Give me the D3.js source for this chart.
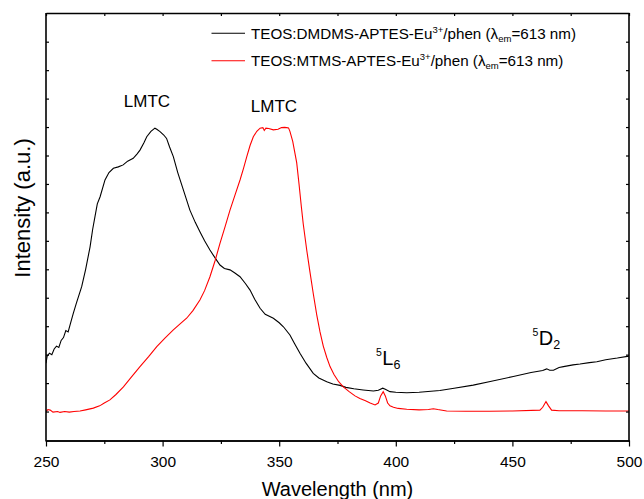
<!DOCTYPE html>
<html>
<head>
<meta charset="utf-8">
<script src="https://cdn.jsdelivr.net/npm/d3@7"></script>
<style>
  html, body { margin: 0; padding: 0; background: #fff; }
  svg { display: block; font-family: "Liberation Sans", Arial, Helvetica, sans-serif; }
</style>
</head>
<body>
<svg id="chart" width="644" height="499"></svg>
<script>
// ---- data ----
const xTicksMajor = [250, 300, 350, 400, 450, 500];
const xTicksMinor = [275, 325, 375, 425, 475];
const yTicks = [1, 2, 3, 4, 5, 6, 7, 8, 9, 10, 11, 12, 13, 14];

const seriesNames = [
  "TEOS:DMDMS-APTES-Eu",
  "TEOS:MTMS-APTES-Eu"
];
const seriesColors = ["#000000", "#ff0000"];

// TEOS:DMDMS-APTES-Eu3+/phen
const blackWl = [250,250.5,251.5,252.5,253.5,254.5,255.5,256.5,257.5,258.5,259.5,260.5,261.7,263,265.3,267,268.9,270,271,272,273.2,275.3,277,278.9,281,283.1,285,287.4,289,290.3,292,293.2,295,296.7,297.5,298.9,300.5,301.7,303,304.6,306.5,308.9,311.7,314,316,318,320.3,322.5,324.6,326.5,328.9,331,333.2,335.5,337.5,339.5,341.8,344,347.5,350,351.8,354.6,356.5,358.9,361.5,364.6,367,370.4,373,376.1,378.6,382,386,390.4,392.5,394.4,395.5,397.5,400,404.7,410,418.9,425,433.2,440,450.4,458,463,464.7,466,467.6,470,471.9,476,479,483,486.2,490,495,500];
const blackVal = [2.70,2.95,3.05,3.0,3.2,3.3,3.25,3.5,3.6,3.85,3.8,4.1,4.45,4.8,5.39,6.0,6.79,7.4,7.85,8.3,8.55,9.14,9.4,9.55,9.6,9.67,9.8,9.90,10.05,10.19,10.45,10.66,10.85,10.96,10.92,10.84,10.72,10.6,10.3,9.96,9.4,8.79,8.08,7.65,7.32,7.0,6.68,6.4,6.15,6.03,5.98,5.87,5.74,5.5,5.27,4.95,4.63,4.42,4.28,4.12,3.98,3.69,3.4,3.05,2.7,2.34,2.18,2.05,1.97,1.92,1.85,1.80,1.76,1.72,1.75,1.82,1.78,1.70,1.68,1.66,1.68,1.74,1.82,1.93,2.05,2.23,2.37,2.44,2.50,2.45,2.45,2.55,2.58,2.64,2.67,2.72,2.75,2.82,2.88,2.95];

// TEOS:MTMS-APTES-Eu3+/phen
const redWl = [250,250.8,251.8,253,255,256,258,260,262,264.6,267,270.3,273,275,277.4,280,283.2,286.5,290.3,294,297.5,301,304.6,307.5,310.3,313,316,318,320.3,322.5,324.6,326.8,328.9,331,333.2,334.7,336.1,337.5,338.9,340.4,341.8,343,343.6,344.3,345.5,347.5,349.5,351,352.3,353.2,354,354.6,355.8,357.5,358.5,359.5,360.3,361.8,363.2,364.6,366.1,367.5,368.9,370.4,371.8,373.5,375.5,377.5,380,382.5,384.6,387,389,391.1,392.5,393.5,394.6,395.5,396.5,397.5,399,401,404.7,410,414,416.1,418,421.8,430,440,450,461.8,463,464.4,465.5,466.8,470,480,490,500];
const redVal = [1.0,1.07,1.05,0.98,1.0,0.97,1.0,0.98,1.0,1.02,1.06,1.12,1.2,1.3,1.41,1.6,1.87,2.2,2.58,2.93,3.28,3.58,3.87,4.08,4.28,4.55,4.92,5.25,5.74,6.3,6.91,7.5,8.08,8.6,9.14,9.55,9.96,10.35,10.66,10.85,10.96,10.98,10.88,10.96,10.95,10.9,10.92,10.98,10.99,10.98,10.97,10.85,10.5,9.75,9.0,8.2,7.6,6.68,5.9,5.15,4.4,3.8,3.3,2.9,2.58,2.3,2.05,1.87,1.7,1.55,1.46,1.38,1.30,1.23,1.3,1.55,1.70,1.55,1.3,1.2,1.15,1.11,1.08,1.06,1.07,1.10,1.07,1.02,1.01,1.01,1.02,1.05,1.15,1.35,1.2,1.05,1.03,1.03,1.02,1.02];

// ---- layout ----
const svg = d3.select("#chart");
const L = 46, R = 629, T = 13, B = 440.5;
const x = d3.scaleLinear().domain([250, 500]).range([L, R]);
const y = d3.scaleLinear().domain([0, 15]).range([440, 13.25]);
const font = '"Liberation Sans", Arial, Helvetica, sans-serif';

// curves
const line = d3.line().x(d => x(d[0])).y(d => y(d[1])).curve(d3.curveLinear);
const blackData = blackWl.map((w, i) => [w, blackVal[i]]);
const redData = redWl.map((w, i) => [w, redVal[i]]);

svg.append("clipPath").attr("id", "clip")
  .append("rect").attr("x", L).attr("y", T).attr("width", R - L).attr("height", B - T);

svg.append("path").datum(blackData).attr("d", line)
  .attr("fill", "none").attr("stroke", seriesColors[0]).attr("stroke-width", 1.1)
  .attr("clip-path", "url(#clip)");
svg.append("path").datum(redData).attr("d", line)
  .attr("fill", "none").attr("stroke", seriesColors[1]).attr("stroke-width", 1.1)
  .attr("clip-path", "url(#clip)");

// axes
function styleAxis(g) {
  g.select(".domain").attr("stroke", "#000").attr("stroke-width", 1.6);
  g.selectAll(".tick line").attr("stroke", "#000").attr("stroke-width", 1.2);
  g.selectAll("text").attr("font-family", font).attr("fill", "#000");
}

// bottom major
svg.append("g").attr("transform", `translate(0,${B})`)
  .call(d3.axisBottom(x).tickValues(xTicksMajor).tickSizeInner(6).tickSizeOuter(0).tickPadding(9).tickFormat(d3.format("d")))
  .call(styleAxis)
  .call(g => g.selectAll("text").attr("font-size", 15.5));
// bottom minor
svg.append("g").attr("transform", `translate(0,${B})`)
  .call(d3.axisBottom(x).tickValues(xTicksMinor).tickSizeInner(3.5).tickSizeOuter(0).tickFormat(""))
  .call(styleAxis);
// top
svg.append("g").attr("transform", `translate(0,${T})`)
  .call(d3.axisTop(x).tickValues(xTicksMajor.concat(xTicksMinor)).tickSizeInner(-3).tickSizeOuter(0).tickFormat(""))
  .call(styleAxis);
// left
svg.append("g").attr("transform", `translate(${L},0)`)
  .call(d3.axisLeft(y).tickValues(yTicks).tickSizeInner(-3).tickSizeOuter(0).tickFormat(""))
  .call(styleAxis)
  .call(g => g.select(".domain").attr("d", `M0,${T}V${B + 1}`));
// right
svg.append("g").attr("transform", `translate(${R},0)`)
  .call(d3.axisRight(y).tickValues(yTicks).tickSizeInner(-3).tickSizeOuter(0).tickFormat(""))
  .call(styleAxis)
  .call(g => g.select(".domain").attr("d", `M0,${T}V${B + 1}`));

// axis titles
svg.append("text").attr("x", (L + R) / 2).attr("y", 496)
  .attr("text-anchor", "middle").attr("font-family", font).attr("font-size", 20)
  .text("Wavelength (nm)");
svg.append("text").attr("transform", `translate(30,208) rotate(-90)`)
  .attr("text-anchor", "middle").attr("font-family", font).attr("font-size", 22)
  .text("Intensity (a.u.)");

// annotations
svg.append("text").attr("x", 147).attr("y", 107).attr("text-anchor", "middle")
  .attr("font-family", font).attr("font-size", 17).text("LMTC");
svg.append("text").attr("x", 274).attr("y", 111.5).attr("text-anchor", "middle")
  .attr("font-family", font).attr("font-size", 17).text("LMTC");

function levelLabel(xp, yp, sup, main, sub, size) {
  const t = svg.append("text").attr("x", xp).attr("y", yp)
    .attr("font-family", font).attr("font-size", size);
  t.append("tspan").attr("font-size", 10.5).attr("dy", -9).text(sup);
  t.append("tspan").attr("dy", 9).attr("dx", 0.5).text(main);
  t.append("tspan").attr("font-size", 12.5).attr("dy", 4).text(sub);
}
levelLabel(376, 365, "5", "L", "6", 20);
levelLabel(532.5, 345, "5", "D", "2", 20);

// legend
const legY = [33.3, 60.7];
seriesNames.forEach((name, i) => {
  svg.append("line").attr("x1", 211.5).attr("x2", 245).attr("y1", legY[i]).attr("y2", legY[i])
    .attr("stroke", seriesColors[i]).attr("stroke-width", 1.1);
  const t = svg.append("text").attr("x", 251).attr("y", legY[i] + 5.3)
    .attr("font-family", font).attr("font-size", 15.2).attr("fill", "#000");
  t.append("tspan").text(name);
  t.append("tspan").attr("font-size", 9.5).attr("dy", -6).text("3+");
  t.append("tspan").attr("dy", 6).text("/phen (λ");
  t.append("tspan").attr("font-size", 9.5).attr("dy", 3).text("em");
  t.append("tspan").attr("dy", -3).text("=613 nm)");
});
</script>
</body>
</html>
